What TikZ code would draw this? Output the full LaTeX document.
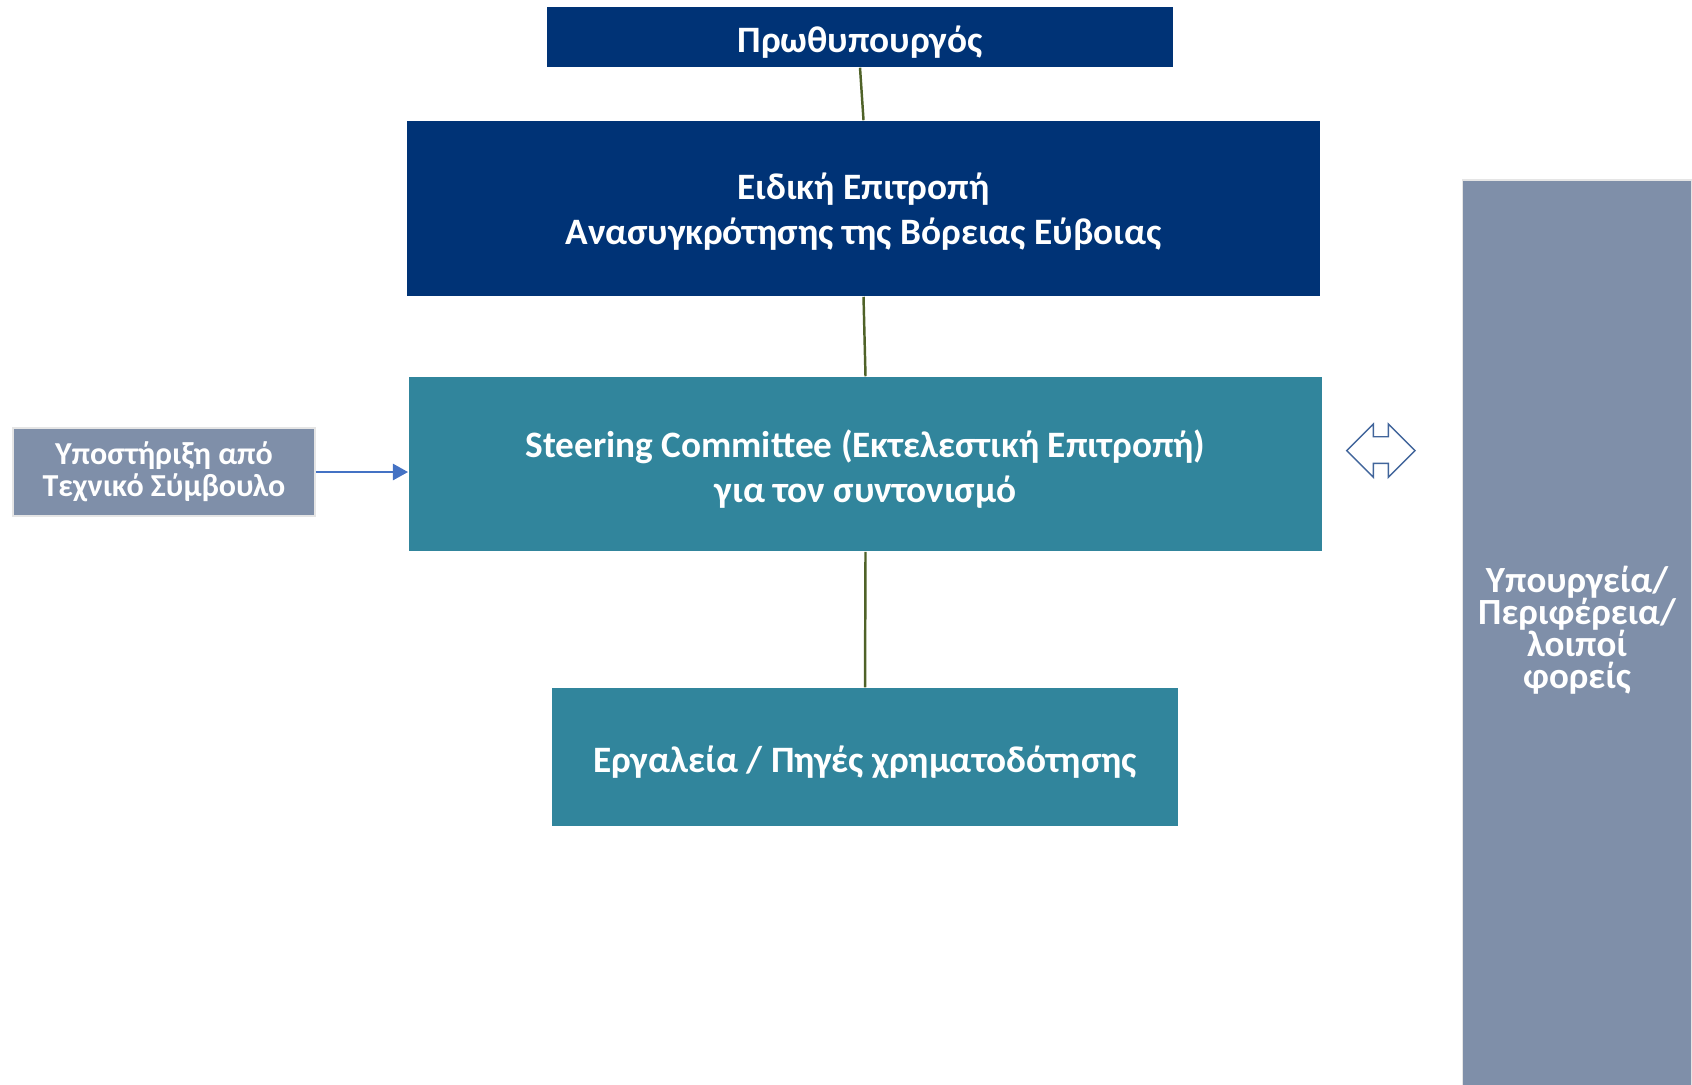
\documentclass[tikz,border=0pt]{standalone}
\usepackage{fontspec}
\setmainfont{Carlito}
\usetikzlibrary{arrows.meta}
\definecolor{pmblue}{RGB}{0,51,118}
\definecolor{steerteal}{RGB}{49,133,156}
\definecolor{greyblue}{RGB}{127,143,169}
\definecolor{linkgreen}{RGB}{79,98,40}
\definecolor{arrowblue}{RGB}{68,114,196}
\definecolor{outlineblue}{RGB}{65,101,155}
\newcommand{\tightlines}{\lineskiplimit=-10pt\relax}
\begin{document}
\begin{tikzpicture}[y=-0.01cm, x=0.01cm, font=\bfseries,
    lift/.style={execute at begin node={\rule{0pt}{#1}}},
    box/.style={inner sep=0pt, text=white, align=center, font=\bfseries\fontsize{10.6}{12.8}\selectfont, lift=10.3pt},
    sidebox/.style={inner sep=0pt, text=white, align=center, fill=greyblue, draw=gray!20, line width=0.5pt},
    link/.style={linkgreen, line width=0.7pt}]
    % frame
    \useasboundingbox (0,0) rectangle (1692,1084);
    % main column
    \node[box, fill=pmblue, minimum width=6.26cm, minimum height=0.60cm] (pm) at (860,37) {Πρωθυπουργός};
    \node[box, fill=pmblue, minimum width=9.13cm, minimum height=1.75cm, lift=22.4pt] (special) at (863.5,208.5) {Ειδική Επιτροπή\\Ανασυγκρότησης της Βόρειας Εύβοιας};
    \node[box, fill=steerteal, minimum width=9.13cm, minimum height=1.74cm, lift=23.6pt] (steer) at (865.5,464) {Steering Committee (Εκτελεστική Επιτροπή)\\για τον συντονισμό};
    \node[box, fill=steerteal, minimum width=6.26cm, minimum height=1.38cm] (tools) at (865,757) {Εργαλεία / Πηγές χρηματοδότησης};
    % side boxes
    \node[sidebox, minimum width=3.02cm, minimum height=0.88cm, font=\bfseries\fontsize{9.1}{9.1}\selectfont\tightlines] (advisor) at (164,472) {Υποστήριξη από\\Τεχνικό Σύμβουλο};
    \node[sidebox, minimum width=2.29cm, minimum height=9.10cm, font=\bfseries\fontsize{10.5}{9.1}\selectfont\tightlines,
      execute at end node={\rule[-4.2pt]{0pt}{0pt}}] (bodies) at (1577,635) {Υπουργεία/\\Περιφέρεια/\\λοιποί\\φορείς};
    % links
    \draw[link] (pm.south) -- (special.north);
    \draw[link] (special.south) -- (steer.north);
    \draw[link] (steer.south) -- (tools.north);
    \draw[arrowblue, line width=0.6pt, -{Triangle[length=4.3pt, width=4.6pt]}] (advisor.east) -- (advisor.east -| steer.west);
    % two-way arrow
    \draw[outlineblue, line width=0.4pt, fill=white] (1346.7,450.7) -- (1373.3,424) -- (1373.3,436.7) -- (1388.3,436.7) -- (1388.3,424) -- (1415,450.7) -- (1388.3,477.3) -- (1388.3,463.3) -- (1373.3,463.3) -- (1373.3,477.3) -- cycle;
\end{tikzpicture}
\end{document}
